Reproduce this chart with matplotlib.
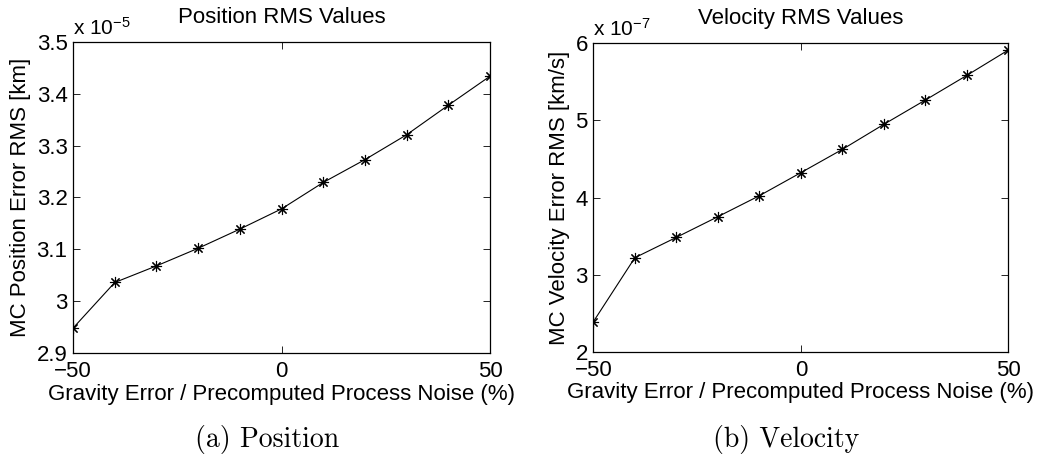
import numpy as np
import matplotlib
matplotlib.rcParams['font.family'] = ['Liberation Sans', 'DejaVu Sans']
matplotlib.rcParams['mathtext.default'] = 'regular'
matplotlib.rcParams['xtick.direction'] = 'in'
matplotlib.rcParams['ytick.direction'] = 'in'
matplotlib.rcParams['xtick.top'] = True
matplotlib.rcParams['ytick.right'] = True
import matplotlib.pyplot as plt

# gravity error / precomputed process noise (%)
grav_err = [-50, -40, -30, -20, -10, 0, 10, 20, 30, 40, 50]
# MC position error RMS, units of 1e-5 km
pos_rms = [2.948, 3.036, 3.068, 3.102, 3.139, 3.178, 3.229, 3.273, 3.321, 3.378, 3.434]
# MC velocity error RMS, units of 1e-7 km/s
vel_rms = [2.389, 3.219, 3.483, 3.751, 4.023, 4.322, 4.624, 4.949, 5.264, 5.584, 5.913]

pos_yticks = [2.9, 3.0, 3.1, 3.2, 3.3, 3.4, 3.5]
pos_yticklabels = ['2.9', '3', '3.1', '3.2', '3.3', '3.4', '3.5']
vel_yticks = [2, 3, 4, 5, 6]
xticks = [-50, 0, 50]

fs = 16


def plot_panel(ax, y, yticks, yticklabels, ylim, expo, title, labels, caption, cx):
    ax.plot(grav_err, y, '-', color='black', lw=0.8, marker=(8, 2, 0), markersize=8,
            markeredgewidth=0.8)
    ax.set_xlim(-50, 50)
    ax.set_ylim(*ylim)
    ax.set_xticks(xticks)
    ax.set_xticklabels(['\u221250', '0', '50'])
    ax.set_yticks(yticks)
    ax.set_yticklabels(yticklabels)
    ax.tick_params(labelsize=fs, length=5, width=0.6, pad=4)
    ax.tick_params(axis='x', pad=6)
    for s in ax.spines.values():
        s.set_linewidth(0.9)
    ax.set_title(title, fontsize=fs, pad=14)
    ax.set_xlabel(labels[0], fontsize=fs, labelpad=1)
    ax.set_ylabel(labels[1], fontsize=fs, labelpad=4)
    ax.text(0.0, 1.01, r'x 10$^{%d}$' % expo, transform=ax.transAxes,
            fontsize=fs - 1, ha='left', va='bottom')
    fig.text(cx, 1 - 440 / 458, caption, fontsize=20, family='cmr10',
             ha='center', va='center')


fig = plt.figure(figsize=(10.45, 4.58), dpi=100)

ax1 = fig.add_axes([0.0699, 0.2293, 0.399, 0.679])
plot_panel(ax1, pos_rms, pos_yticks, pos_yticklabels, (2.9, 3.5), -5,
           'Position RMS Values',
           ('Gravity Error / Precomputed Process Noise (%)', 'MC Position Error RMS [km]'),
           '(a) Position', 267 / 1045)

ax2 = fig.add_axes([0.5678, 0.2321, 0.3971, 0.6733])
plot_panel(ax2, vel_rms, vel_yticks, [str(v) for v in vel_yticks], (2, 6), -7,
           'Velocity RMS Values',
           ('Gravity Error / Precomputed Process Noise (%)', 'MC Velocity Error RMS [km/s]'),
           '(b) Velocity', 786 / 1045)

plt.savefig('out.png', dpi=100)
plt.close(fig)
